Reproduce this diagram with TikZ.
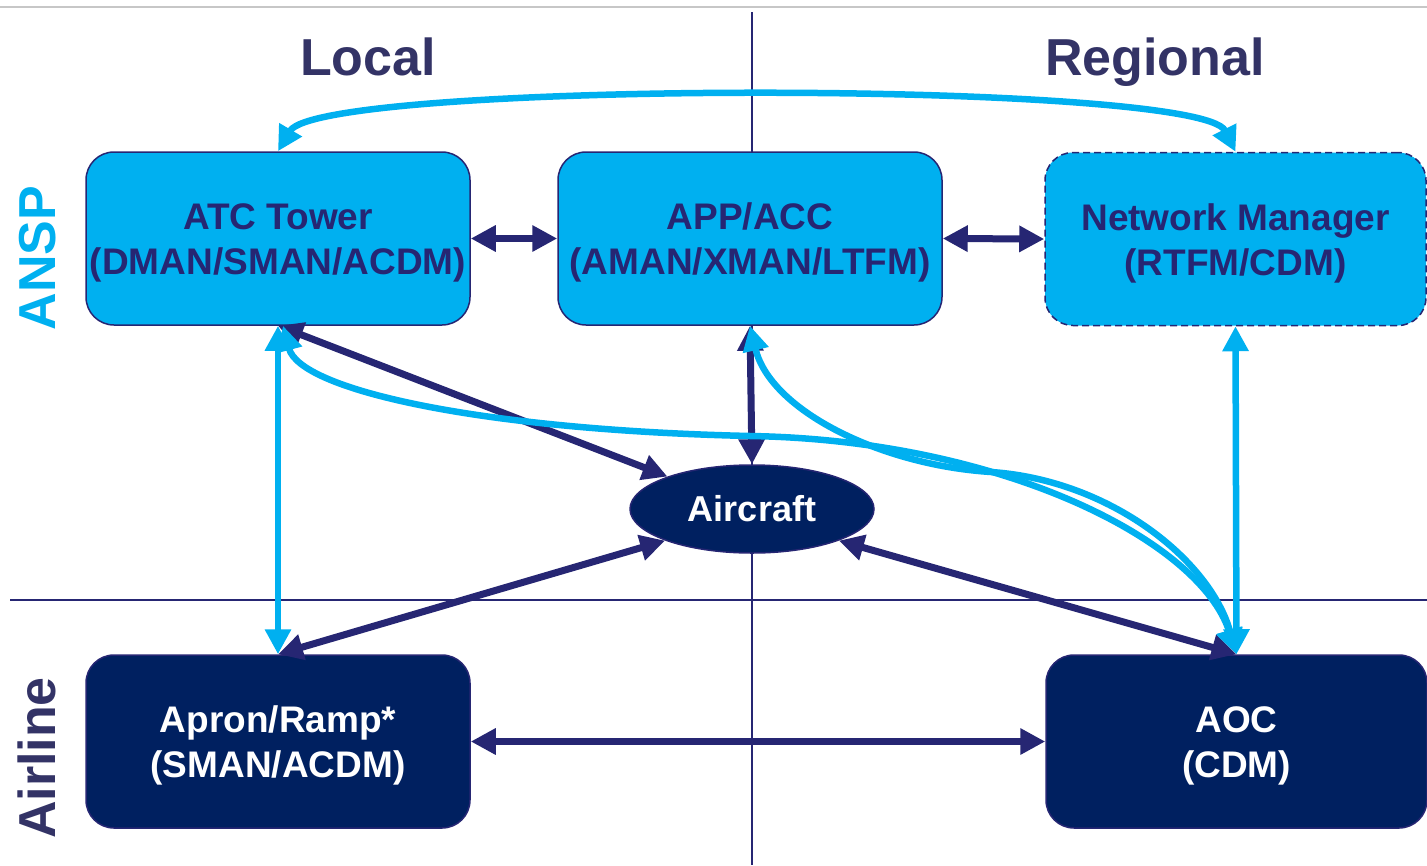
\documentclass[tikz,border=0pt]{standalone}
\usepackage{fontspec}
\setmainfont{Liberation Sans}
\usetikzlibrary{arrows.meta,shapes.geometric}
\definecolor{lblue}{HTML}{00B0F0}
\definecolor{navy}{HTML}{262673}
\definecolor{dnavy}{HTML}{002060}
\definecolor{titlec}{HTML}{333366}
\begin{document}
\begin{tikzpicture}[x=1pt,y=-1pt,
 box/.style={rectangle,rounded corners=28pt,minimum width=384pt,minimum height=173pt,align=center,font=\fontsize{37}{45}\selectfont\bfseries,line width=1.5pt,inner sep=0pt,text height=80pt},
 anspbox/.style={box,fill=lblue,draw=navy,text=navy},
 airbox/.style={box,fill=dnavy,draw=navy,text=white},
 nv/.style={draw=navy,line width=7pt,>={Triangle[length=25pt,width=25pt]},<->},
 lb/.style={draw=lblue,line width=6.5pt,>={Triangle[length=25pt,width=25pt]},<->},
 title/.style={font=\fontsize{52}{60}\selectfont\bfseries,text=titlec,inner sep=0pt,anchor=base},
 divider/.style={draw=navy,line width=1.5pt}
]
\useasboundingbox (0,0) rectangle (1427,865);
% top rule and quadrant dividers
\draw[black!22,line width=2pt] (0,7) -- (1427,7);
\draw[divider] (752,12) -- (752,865);
\draw[divider] (10,600) -- (1427,600);

% titles
\node[title] (local) at (368,75) {Local};
\node[title] (regional) at (1155,75) {Regional};
\node[title,text=lblue,rotate=90] (anspl) at (55,258) {ANSP};
\node[title,rotate=90] (airl) at (55,758) {Airline};

% boxes
\node[anspbox] (atc) at (278,238.5) {ATC Tower\\(DMAN/SMAN/ACDM)};
\node[anspbox] (app) at (750,238.5) {APP/ACC\\(AMAN/XMAN/LTFM)};
\node[anspbox,dashed,dash pattern=on 7pt off 4pt,minimum width=381pt] (nm) at (1235.5,239) {Network Manager\\(RTFM/CDM)};
\node[airbox] (apron) at (278,741.5) {Apron/Ramp*\\(SMAN/ACDM)};
\node[airbox,minimum width=381pt] (aoc) at (1236.5,741.5) {AOC\\(CDM)};
\node[ellipse,fill=dnavy,draw=navy,line width=1.5pt,minimum width=244pt,minimum height=88pt,inner sep=0pt,text=white,font=\fontsize{36}{40}\selectfont\bfseries] (aircraft) at (752,509) {Aircraft};

% navy connectors
\draw[nv] (atc.east) -- (app.west);
\draw[nv] (app.east) -- (nm.west);
\draw[nv] (apron.east) -- (aoc.west);
\draw[nv] (atc.south) -- (aircraft.159);
\draw[nv] (app.south) -- (aircraft.north);
\draw[nv] (aircraft.200) -- (apron.north);
\draw[nv] (aircraft.340) -- (aoc.north);

% light blue connectors
\draw[lb] (atc.north) .. controls (320,80) and (1200,80) .. (nm.north);
\draw[lb] (atc.south) -- (apron.north);
\draw[lb] (nm.south) -- (aoc.north);
\draw[lb] ([xshift=5pt]atc.south) .. controls (300,390) and (480,430) .. (750,436) .. controls (1000,440) and (1200,540) .. (aoc.north);
\draw[lb] (app.south) .. controls (770,410) and (880,465) .. (991,472) .. controls (1110,480) and (1210,560) .. (aoc.north);
\end{tikzpicture}
\end{document}
